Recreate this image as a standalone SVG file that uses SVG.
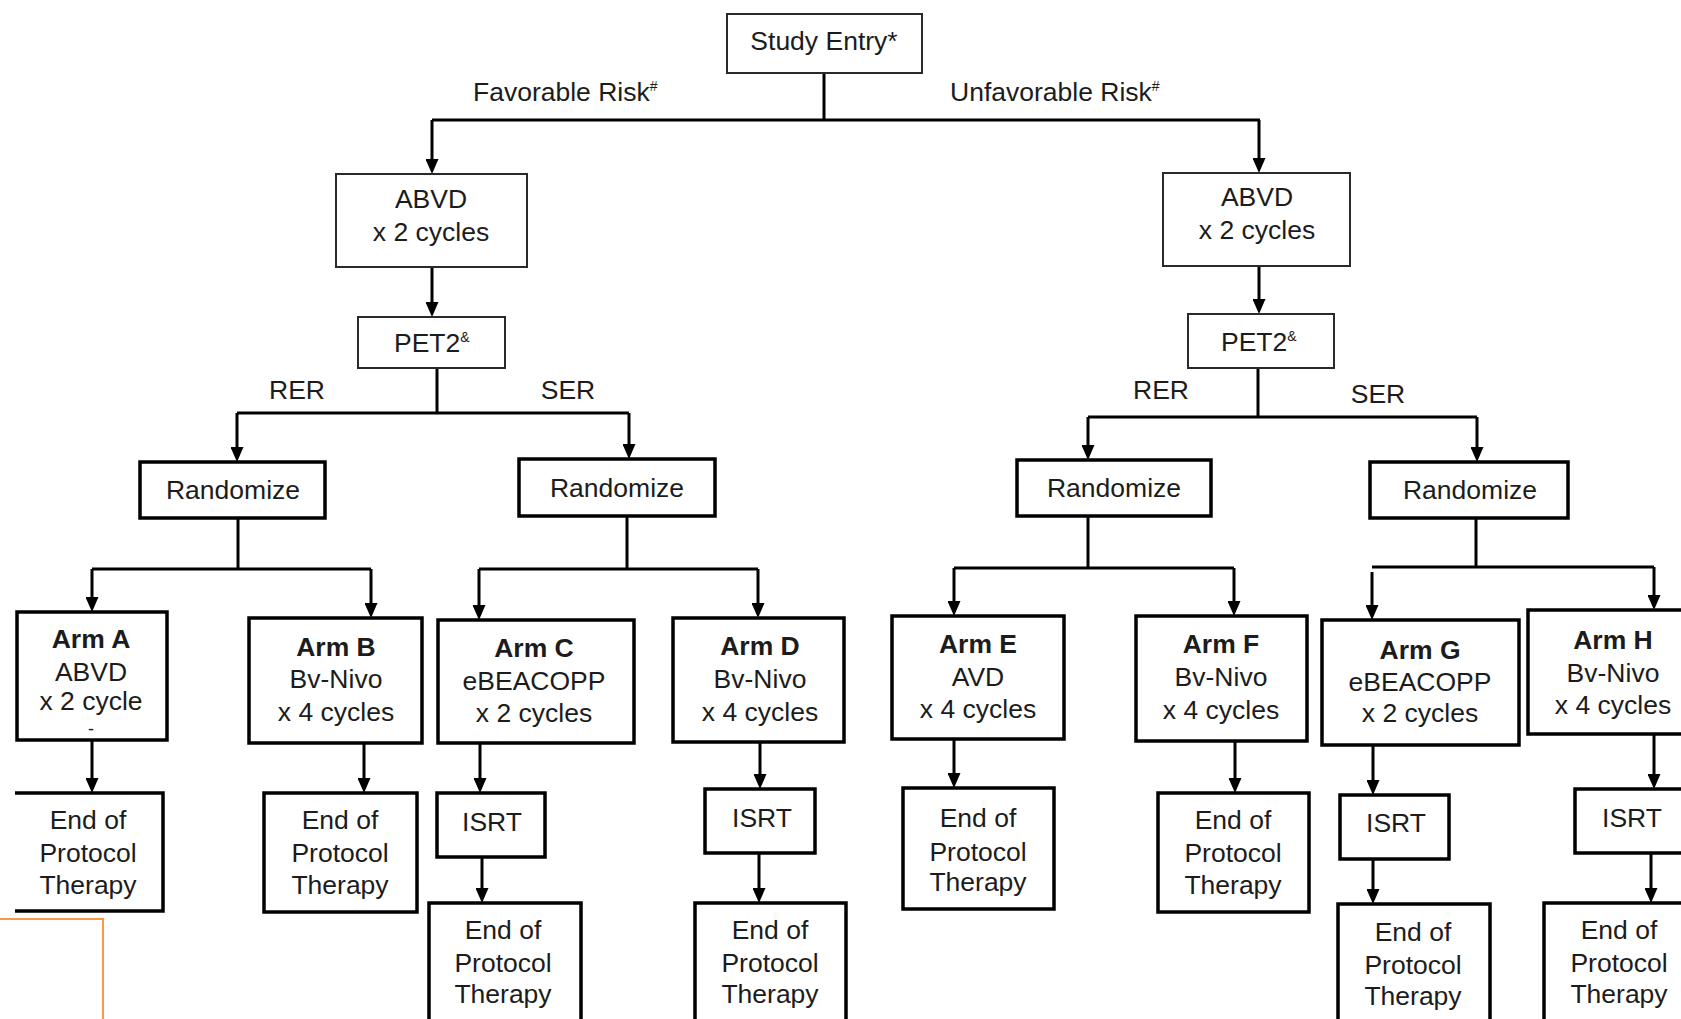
<svg xmlns="http://www.w3.org/2000/svg" width="1681" height="1019" viewBox="0 0 1681 1019">
<defs>
<marker id="ah" markerUnits="userSpaceOnUse" viewBox="0 0 15 13" refX="7" refY="6.5" markerWidth="15" markerHeight="13" orient="auto">
<path d="M0,0 L15,6.5 L0,13 z" fill="#000"/>
</marker>
<style>
text{font-family:"Liberation Sans",Arial,sans-serif;font-size:26.5px;fill:#1c1c1c;text-anchor:middle}
.lbl{text-anchor:start}
.b{font-weight:bold}
.sup{font-size:14px}
.dash{font-size:18px}
.thin{fill:#fff;stroke:#2a2a2a;stroke-width:2}
.thick{fill:#fff;stroke:#000;stroke-width:3.5}
.con path{fill:none;stroke:#000;stroke-width:3}
.arr{marker-end:url(#ah)}
</style>
</defs>
<rect width="1681" height="1019" fill="#fff"/>

<g id="connectors" class="con">
<path d="M824,73 V120"/>
<path d="M432,120 H1260"/>
<path class="arr" d="M432,120 V166"/>
<path class="arr" d="M1259,120 V165"/>
<path class="arr" d="M432,267 V309"/>
<path class="arr" d="M1259,266 V306"/>
<path d="M437,368 V413"/>
<path d="M237,413 H629"/>
<path class="arr" d="M237,413 V454"/>
<path class="arr" d="M629,413 V451"/>
<path d="M1258,368 V417"/>
<path d="M1088,417 H1477"/>
<path class="arr" d="M1088,417 V452"/>
<path class="arr" d="M1477,417 V454"/>
<path d="M238,518 V569"/>
<path d="M92,569 H371"/>
<path class="arr" d="M92,569 V604"/>
<path class="arr" d="M371,569 V610"/>
<path d="M627,516 V569"/>
<path d="M479,569 H758"/>
<path class="arr" d="M479,569 V612"/>
<path class="arr" d="M758,569 V610"/>
<path d="M1088,516 V568"/>
<path d="M954,568 H1234"/>
<path class="arr" d="M954,568 V608"/>
<path class="arr" d="M1234,568 V608"/>
<path d="M1476,518 V567"/>
<path d="M1372,567 H1654"/>
<path class="arr" d="M1372,572 V612"/>
<path class="arr" d="M1654,567 V602"/>
<path class="arr" d="M92,740 V785"/>
<path class="arr" d="M364,743 V785"/>
<path class="arr" d="M480,743 V785"/>
<path class="arr" d="M482,857 V895"/>
<path class="arr" d="M760,742 V781"/>
<path class="arr" d="M759,853 V895"/>
<path class="arr" d="M954,739 V780"/>
<path class="arr" d="M1235,741 V785"/>
<path class="arr" d="M1373,745 V787"/>
<path class="arr" d="M1373,859 V896"/>
<path class="arr" d="M1654,734 V781"/>
<path class="arr" d="M1651,853 V895"/>
</g>

<g id="labels">
<text class="lbl" x="473" y="101">Favorable Risk<tspan class="sup" dy="-10">#</tspan></text>
<text class="lbl" x="950" y="101">Unfavorable Risk<tspan class="sup" dy="-10">#</tspan></text>
<text x="297" y="399">RER</text>
<text x="568" y="399">SER</text>
<text x="1161" y="399">RER</text>
<text x="1378" y="403">SER</text>
</g>

<g id="study-entry"><rect class="thin" x="727" y="14" width="195" height="59"/><text x="824" y="50">Study Entry*</text></g>

<g id="abvd-fav"><rect class="thin" x="336" y="174" width="191" height="93"/><text x="431" y="208">ABVD</text><text x="431" y="241">x 2 cycles</text></g>
<g id="abvd-unfav"><rect class="thin" x="1163" y="173" width="187" height="93"/><text x="1257" y="206">ABVD</text><text x="1257" y="239">x 2 cycles</text></g>

<g id="pet2-fav"><rect class="thin" x="358" y="317" width="147" height="51"/><text class="lbl" x="394" y="352">PET2<tspan class="sup" dy="-10">&amp;</tspan></text></g>
<g id="pet2-unfav"><rect class="thin" x="1188" y="314" width="146" height="54"/><text class="lbl" x="1221" y="351">PET2<tspan class="sup" dy="-10">&amp;</tspan></text></g>

<g id="rand-1"><rect class="thick" x="140" y="462" width="185" height="56"/><text x="233" y="499">Randomize</text></g>
<g id="rand-2"><rect class="thick" x="519" y="459" width="196" height="57"/><text x="617" y="497">Randomize</text></g>
<g id="rand-3"><rect class="thick" x="1017" y="460" width="194" height="56"/><text x="1114" y="497">Randomize</text></g>
<g id="rand-4"><rect class="thick" x="1370" y="462" width="198" height="56"/><text x="1470" y="499">Randomize</text></g>

<g id="arm-a"><rect class="thick" x="17" y="612" width="150" height="128"/><text class="b" x="91" y="648">Arm A</text><text x="91" y="681">ABVD</text><text x="91" y="710">x 2 cycle</text><text class="dash" x="91" y="735">-</text></g>
<g id="arm-b"><rect class="thick" x="249" y="618" width="173" height="125"/><text class="b" x="336" y="656">Arm B</text><text x="336" y="688">Bv-Nivo</text><text x="336" y="721">x 4 cycles</text></g>
<g id="arm-c"><rect class="thick" x="438" y="620" width="196" height="123"/><text class="b" x="534" y="657">Arm C</text><text x="534" y="690">eBEACOPP</text><text x="534" y="722">x 2 cycles</text></g>
<g id="arm-d"><rect class="thick" x="673" y="618" width="171" height="124"/><text class="b" x="760" y="655">Arm D</text><text x="760" y="688">Bv-Nivo</text><text x="760" y="721">x 4 cycles</text></g>
<g id="arm-e"><rect class="thick" x="892" y="616" width="172" height="123"/><text class="b" x="978" y="653">Arm E</text><text x="978" y="686">AVD</text><text x="978" y="718">x 4 cycles</text></g>
<g id="arm-f"><rect class="thick" x="1136" y="616" width="171" height="125"/><text class="b" x="1221" y="653">Arm F</text><text x="1221" y="686">Bv-Nivo</text><text x="1221" y="719">x 4 cycles</text></g>
<g id="arm-g"><rect class="thick" x="1322" y="620" width="197" height="125"/><text class="b" x="1420" y="659">Arm G</text><text x="1420" y="691">eBEACOPP</text><text x="1420" y="722">x 2 cycles</text></g>
<g id="arm-h"><rect class="thick" x="1528" y="610" width="175" height="124"/><text class="b" x="1613" y="649">Arm H</text><text x="1613" y="682">Bv-Nivo</text><text x="1613" y="714">x 4 cycles</text></g>

<g id="end-a"><path d="M15,793 H163 V911 H15" fill="#fff" stroke="#000" stroke-width="3.5"/><text x="88" y="829">End of</text><text x="88" y="862">Protocol</text><text x="88" y="894">Therapy</text></g>
<g id="end-b"><rect class="thick" x="264" y="793" width="153" height="119"/><text x="340" y="829">End of</text><text x="340" y="862">Protocol</text><text x="340" y="894">Therapy</text></g>
<g id="isrt-c"><rect class="thick" x="437" y="793" width="108" height="64"/><text x="492" y="831">ISRT</text></g>
<g id="end-c"><rect class="thick" x="429" y="903" width="152" height="130"/><text x="503" y="939">End of</text><text x="503" y="972">Protocol</text><text x="503" y="1003">Therapy</text></g>
<g id="isrt-d"><rect class="thick" x="705" y="789" width="110" height="64"/><text x="762" y="827">ISRT</text></g>
<g id="end-d"><rect class="thick" x="695" y="903" width="151" height="130"/><text x="770" y="939">End of</text><text x="770" y="972">Protocol</text><text x="770" y="1003">Therapy</text></g>
<g id="end-e"><rect class="thick" x="903" y="788" width="151" height="121"/><text x="978" y="827">End of</text><text x="978" y="861">Protocol</text><text x="978" y="891">Therapy</text></g>
<g id="end-f"><rect class="thick" x="1158" y="793" width="151" height="119"/><text x="1233" y="829">End of</text><text x="1233" y="862">Protocol</text><text x="1233" y="894">Therapy</text></g>
<g id="isrt-g"><rect class="thick" x="1340" y="795" width="109" height="64"/><text x="1396" y="832">ISRT</text></g>
<g id="end-g"><rect class="thick" x="1338" y="904" width="152" height="130"/><text x="1413" y="941">End of</text><text x="1413" y="974">Protocol</text><text x="1413" y="1005">Therapy</text></g>
<g id="isrt-h"><rect class="thick" x="1575" y="789" width="125" height="64"/><text x="1632" y="827">ISRT</text></g>
<g id="end-h"><rect class="thick" x="1544" y="903" width="156" height="130"/><text x="1619" y="939">End of</text><text x="1619" y="972">Protocol</text><text x="1619" y="1003">Therapy</text></g>

<polyline points="0,919 103,919 103,1019" fill="none" stroke="#F59A45" stroke-width="2"/>
</svg>
